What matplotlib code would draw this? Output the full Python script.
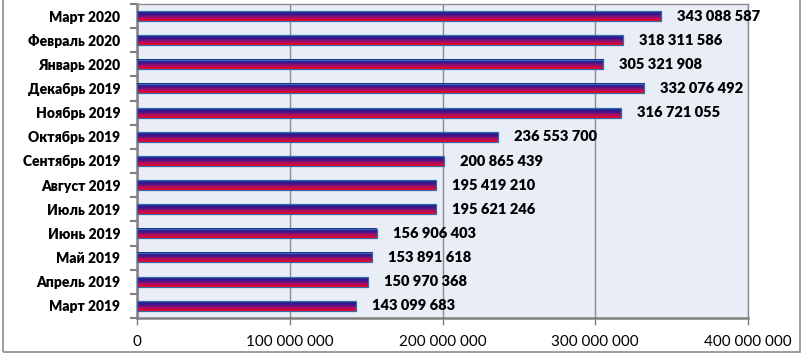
import numpy as np
import matplotlib.pyplot as plt
from matplotlib.colors import LinearSegmentedColormap
from matplotlib.patches import Rectangle
from matplotlib.ticker import FuncFormatter

plt.rcParams['font.family'] = ['Lato', 'DejaVu Sans']

# Данные (снизу вверх)
months = ["Март 2019", "Апрель 2019", "Май 2019", "Июнь 2019", "Июль 2019",
          "Август 2019", "Сентябрь 2019", "Октябрь 2019", "Ноябрь 2019",
          "Декабрь 2019", "Январь 2020", "Февраль 2020", "Март 2020"]
values = [143099683, 150970368, 153891618, 156906403, 195621246,
          195419210, 200865439, 236553700, 316721055,
          332076492, 305321908, 318311586, 343088587]


def fmt(v):
    return f"{int(v):,}".replace(",", " ")


fig = plt.figure(figsize=(8.05, 3.57), dpi=100)
ax = fig.add_axes([137 / 805, 1 - 318 / 357, (748 - 137) / 805, (318 - 4) / 357])
ax.set_facecolor("#e9edf6")

# градиент: красный снизу, синий сверху
cmap = LinearSegmentedColormap.from_list("bar", ["#ff0010", "#a0106a", "#3a1490", "#1f2a88"])
grad = np.linspace(0, 1, 64).reshape(-1, 1)
h = 0.4
for i, v in enumerate(values):
    ax.imshow(grad, cmap=cmap, origin="lower", aspect="auto",
              extent=[0, v, i - h / 2, i + h / 2], zorder=3, interpolation="bilinear")
    ax.add_patch(Rectangle((0, i - h / 2), v, h, fill=False,
                           edgecolor="#2f6fb0", lw=0.9, zorder=4))
    ax.text(v + 10.5e6, i, fmt(v), va="center", ha="left",
            fontsize=10.5, fontweight="heavy", zorder=5)

ax.set_xlim(0, 400e6)
ax.set_ylim(-0.5, len(values) - 0.5)
ax.set_xticks(np.arange(0, 400e6 + 1, 100e6))
ax.xaxis.set_major_formatter(FuncFormatter(lambda x, p: fmt(x)))
ax.grid(axis="x", color="#8c8c8c", lw=1, zorder=1)
ax.set_axisbelow(True)

ax.set_yticks(range(len(months)))
ax.set_yticklabels(months, fontweight="heavy", fontsize=10)
ax.set_yticks(np.arange(-0.5, len(months), 1), minor=True)
ax.tick_params(axis="y", which="major", length=0, pad=12)
ax.tick_params(axis="y", which="minor", length=5, width=1.5, color="#808080")
ax.tick_params(axis="x", length=5, width=1, color="#808080", labelsize=11, pad=7)

for s in ["left", "bottom"]:
    ax.spines[s].set_color("#808080")
    ax.spines[s].set_linewidth(1.8)
for s in ["top", "right"]:
    ax.spines[s].set_color("#8c8c8c")
    ax.spines[s].set_linewidth(1)

# рамка диаграммы
fig.patches.append(Rectangle((3 / 805, 5 / 357), 797 / 805, 1.2, transform=fig.transFigure,
                             fill=False, edgecolor="#8c8c8c", lw=1.2))

fig.savefig("out.png", dpi=100)
